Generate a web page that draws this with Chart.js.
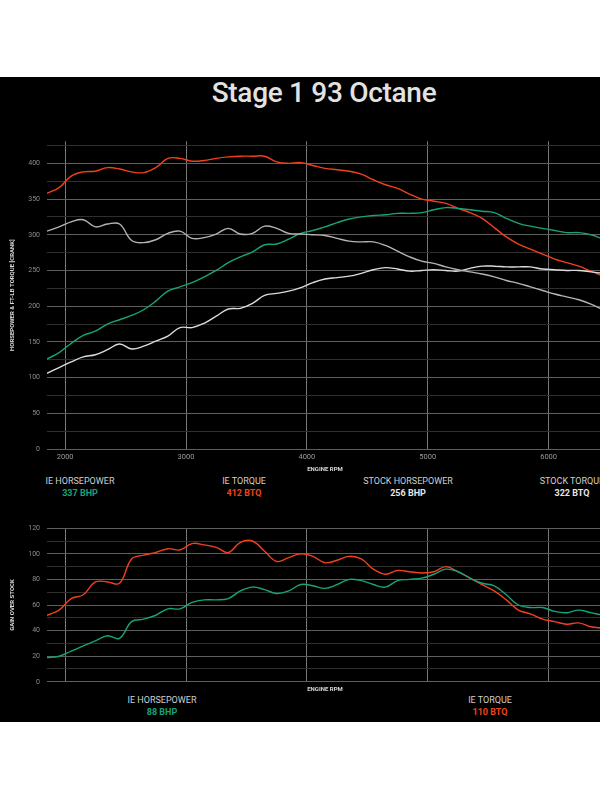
<!DOCTYPE html>
<html>
<head>
<meta charset="utf-8">
<script src="https://cdn.jsdelivr.net/npm/chart.js@4.4.1/dist/chart.umd.min.js"></script>
<style>
html, body { margin: 0; padding: 0; background: #fff; width: 600px; height: 799px; overflow: hidden; font-family: Roboto, sans-serif; }
#panel { position: absolute; left: 0; top: 77px; width: 600px; height: 645px; background: #000; }
#title { position: absolute; left: 0; width: 648px; top: 79px; text-align: center; font-size: 28px; line-height: 28px; font-weight: 500; color: #e2e2e2; letter-spacing: -0.3px; }
canvas { position: absolute; left: 0; }
#topChart { top: 130px; }
#gainChart { top: 517px; }
.leg { position: absolute; text-align: center; font-size: 9px; line-height: 12px; color: #cfcfcf; }
.leg b { display: block; font-weight: 700; }
</style>
</head>
<body>
<div id="panel"></div>
<div id="title">Stage 1 93 Octane</div>
<canvas id="topChart" width="603" height="343"></canvas>
<canvas id="gainChart" width="603" height="176"></canvas>

<div class="leg" style="left:-2px;width:164px;top:475px">IE HORSEPOWER<b style="color:#17a37a">337 BHP</b></div>
<div class="leg" style="left:162px;width:164px;top:475px">IE TORQUE<b style="color:#f2401c">412 BTQ</b></div>
<div class="leg" style="left:326px;width:164px;top:475px">STOCK HORSEPOWER<b style="color:#e6e6e6">256 BHP</b></div>
<div class="leg" style="left:490px;width:164px;top:475px">STOCK TORQUE<b style="color:#e6e6e6">322 BTQ</b></div>

<div class="leg" style="left:-2px;width:328px;top:694px">IE HORSEPOWER<b style="color:#17a37a">88 BHP</b></div>
<div class="leg" style="left:326px;width:328px;top:694px">IE TORQUE<b style="color:#f2401c">110 BTQ</b></div>

<script>
// engine rpm, read every 100 rpm off the dyno sheet
var rpm = [1850, 1950, 2050, 2150, 2250, 2350, 2450, 2550, 2650, 2750, 2850, 2950,
           3050, 3150, 3250, 3350, 3450, 3550, 3650, 3750, 3850, 3950, 4050, 4150,
           4250, 4350, 4450, 4550, 4650, 4750, 4850, 4950, 5050, 5150, 5250, 5350,
           5450, 5550, 5650, 5750, 5850, 5950, 6050, 6150, 6250, 6350, 6450];

var ieTorque = [358, 366, 382, 388, 389, 394, 392, 388, 387, 394, 407, 407,
                403, 404, 407, 409, 410, 410, 410, 402, 400, 401, 397, 393,
                391, 389, 385, 377, 370, 365, 357, 350, 347, 344, 337, 331,
                323, 310, 297, 287, 280, 273, 266, 261, 256, 249, 242];

var ieHorsepower = [126, 135, 148, 159, 165, 175, 181, 187, 195, 207, 221, 227,
                    233, 241, 250, 261, 269, 276, 286, 287, 294, 302, 306, 311,
                    317, 322, 325, 327, 328, 330, 330, 331, 335, 338, 337, 335,
                    333, 331, 323, 316, 312, 309, 306, 303, 303, 300, 294];

var stockTorque = [305, 311, 318, 321, 311, 315, 315, 292, 289, 293, 302, 305,
                   295, 296, 301, 309, 301, 302, 312, 309, 302, 301, 300, 299,
                   295, 291, 290, 290, 285, 277, 269, 263, 260, 255, 251, 248,
                   245, 241, 236, 232, 227, 222, 217, 213, 209, 203, 195];

var stockHorsepower = [106, 114, 122, 129, 132, 139, 147, 140, 144, 151, 158, 170,
                       170, 176, 186, 196, 197, 204, 215, 218, 221, 226, 233, 238,
                       240, 242, 246, 251, 254, 252, 249, 250, 251, 250, 249, 253,
                       256, 256, 255, 255, 255, 252, 251, 250, 250, 248, 246];

var gainTorque = [52, 56, 65, 68, 78, 78, 77, 96, 99, 101, 104, 103,
                  108, 107, 105, 101, 109, 110, 102, 94, 97, 100, 98, 93,
                  95, 98, 96, 88, 84, 87, 86, 85, 86, 90, 86, 81,
                  76, 71, 64, 56, 53, 49, 47, 45, 46, 43, 42];

var gainHorsepower = [19, 20, 24, 28, 32, 36, 34, 47, 49, 52, 57, 57,
                      62, 64, 64, 65, 71, 74, 72, 69, 71, 76, 75, 73,
                      76, 80, 79, 76, 74, 79, 80, 81, 84, 88, 86, 81,
                      77, 75, 68, 60, 58, 58, 55, 54, 56, 54, 52];

// grid / tick positions
var rpmTicks = [2000, 3000, 4000, 5000, 6000];
var powerTicks = [0, 25, 50, 75, 100, 125, 150, 175, 200, 225, 250, 275, 300, 325, 350, 375, 400, 425];
var gainTicks = [0, 10, 20, 30, 40, 50, 60, 70, 80, 90, 100, 110, 120];

var RED = '#f2401c';
var TEAL = '#17a37a';
var GRAY_HP = '#dcdcdc';
var GRAY_TQ = '#b4b4b4';

function line(label, values, color) {
    return {
        label: label,
        data: values,
        borderColor: color,
        borderWidth: 1.4,
        pointRadius: 0,
        tension: 0.4,
        fill: false
    };
}

function gridColor(major) {
    return function(c) {
        if (!c.tick) return '#333';
        return c.tick.value % major === 0 ? '#5e5e5e' : '#2e2e2e';
    };
}

function useTicks(list) {
    return function(scale) {
        scale.ticks = list.map(function(v) { return { value: v }; });
    };
}

function xAxis(showLabels, height) {
    return {
        type: 'linear',
        min: 1850,
        max: 6450,
        afterBuildTicks: useTicks(rpmTicks),
        afterFit: function(s) { s.height = height; },
        grid: { color: '#777777', lineWidth: 1, drawTicks: false },
        border: { display: false },
        ticks: {
            display: showLabels,
            autoSkip: false,
            padding: 4,
            color: '#999',
            font: { family: 'Roboto', size: 7.5 },
            maxRotation: 0,
            callback: function(v) { return String(v); }
        },
        title: {
            display: true,
            text: 'ENGINE RPM',
            color: '#d8d8d8',
            padding: { top: 0, bottom: 0 },
            font: { family: 'Roboto', size: 6, weight: 'bold' }
        }
    };
}

function yAxis(max, list, labelStep, titleText) {
    return {
        min: 0,
        max: max,
        afterBuildTicks: useTicks(list),
        afterFit: function(s) { s.width = 47; },
        grid: { color: gridColor(labelStep), lineWidth: 1, drawTicks: false },
        border: { display: false },
        ticks: {
            autoSkip: false,
            padding: 7,
            color: '#8c8c8c',
            font: { family: 'Roboto', size: 7 },
            callback: function(v) { return v % labelStep === 0 ? v : ''; }
        },
        title: {
            display: true,
            text: titleText,
            color: '#d8d8d8',
            padding: { top: 9, bottom: 0 },
            font: { family: 'Roboto', size: 6, weight: 'bold' }
        }
    };
}

function baseOptions(scales) {
    return {
        responsive: false,
        animation: false,
        layout: { padding: { top: 8, left: 0, right: 0, bottom: 0 } },
        plugins: { legend: { display: false }, tooltip: { enabled: false } },
        scales: scales
    };
}

var topCtx = document.getElementById('topChart').getContext('2d');
var topChart = new Chart(topCtx, {
    type: 'line',
    data: {
        labels: rpm,
        datasets: [
            line('Stock Torque', stockTorque, GRAY_TQ),
            line('Stock Horsepower', stockHorsepower, GRAY_HP),
            line('IE Horsepower', ieHorsepower, TEAL),
            line('IE Torque', ieTorque, RED)
        ]
    },
    options: baseOptions({
        x: xAxis(true, 24),
        y: yAxis(431, powerTicks, 50, 'HORSEPOWER & FT-LB TORQUE [CRANK]')
    })
});

var gainCtx = document.getElementById('gainChart').getContext('2d');
var gainChart = new Chart(gainCtx, {
    type: 'line',
    data: {
        labels: rpm,
        datasets: [
            line('IE Horsepower', gainHorsepower, TEAL),
            line('IE Torque', gainTorque, RED)
        ]
    },
    options: baseOptions({
        x: xAxis(false, 11),
        y: yAxis(120, gainTicks, 20, 'GAIN OVER STOCK')
    })
});
</script>
</body>
</html>
